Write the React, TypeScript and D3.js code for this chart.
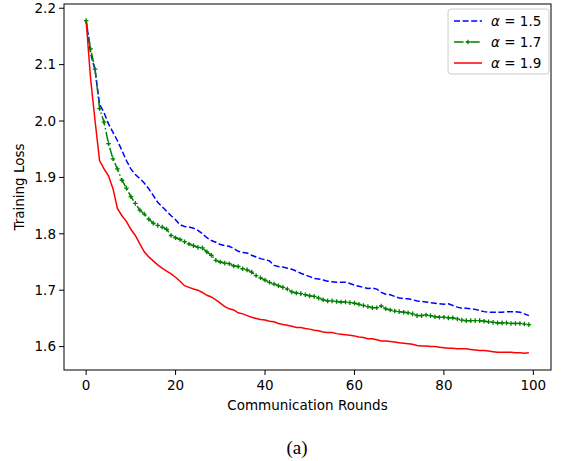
import React from "react";
import * as d3 from "d3";

// communication rounds 0..99
const rounds = d3.range(0, 100);

const alpha15 = [
  2.178, 2.12, 2.09, 2.03, 2.015, 1.995, 1.98, 1.965, 1.948, 1.93,
  1.915, 1.905, 1.898, 1.89, 1.88, 1.868, 1.856, 1.848, 1.84, 1.832,
  1.825, 1.816, 1.813, 1.812, 1.81, 1.806, 1.8, 1.793, 1.788, 1.785,
  1.781, 1.779, 1.778, 1.774, 1.769, 1.767, 1.766, 1.762, 1.759, 1.756,
  1.754, 1.752, 1.744, 1.742, 1.741, 1.739, 1.737, 1.734, 1.73, 1.727,
  1.724, 1.721, 1.72, 1.718, 1.716, 1.715, 1.714, 1.714, 1.714, 1.712,
  1.709, 1.707, 1.705, 1.703, 1.704, 1.702, 1.696, 1.693, 1.692, 1.689,
  1.686, 1.685, 1.685, 1.683, 1.681, 1.68, 1.679, 1.678, 1.677, 1.676,
  1.675, 1.676, 1.673, 1.67, 1.668, 1.668, 1.667, 1.666, 1.664, 1.662,
  1.661, 1.661, 1.661, 1.661, 1.662, 1.662, 1.662, 1.661, 1.658, 1.655,
];

const alpha17 = [
  2.178, 2.128, 2.092, 2.022, 1.998, 1.96, 1.933, 1.915, 1.895, 1.881,
  1.866, 1.854, 1.842, 1.835, 1.826, 1.819, 1.815, 1.812, 1.808, 1.797,
  1.793, 1.79, 1.786, 1.782, 1.779, 1.776, 1.775, 1.768, 1.762, 1.753,
  1.75, 1.748, 1.747, 1.743, 1.742, 1.738, 1.736, 1.732, 1.726, 1.722,
  1.718, 1.714, 1.711, 1.708, 1.705, 1.702, 1.697, 1.695, 1.694, 1.692,
  1.69, 1.689, 1.686, 1.683, 1.681, 1.681, 1.68, 1.679, 1.679, 1.678,
  1.677, 1.675, 1.673, 1.671, 1.669, 1.669, 1.672, 1.667, 1.665, 1.663,
  1.662, 1.661, 1.66, 1.658, 1.655, 1.655, 1.656, 1.655, 1.653, 1.652,
  1.652, 1.651, 1.651, 1.649, 1.647, 1.646, 1.646, 1.646, 1.646, 1.645,
  1.644, 1.643, 1.642, 1.642, 1.642, 1.641, 1.641, 1.641, 1.64, 1.639,
];

const alpha19 = [
  2.178, 2.075, 2.0, 1.93, 1.915, 1.903, 1.88, 1.845, 1.832, 1.822,
  1.808, 1.797, 1.782, 1.768, 1.759, 1.752, 1.745, 1.739, 1.734, 1.729,
  1.723, 1.716, 1.708, 1.705, 1.702, 1.7, 1.696, 1.691, 1.688, 1.683,
  1.677, 1.671, 1.667, 1.665, 1.66, 1.658, 1.655, 1.652, 1.65, 1.648,
  1.647, 1.645, 1.644, 1.641, 1.639, 1.638, 1.636, 1.634, 1.634, 1.632,
  1.631, 1.629, 1.628, 1.626, 1.625, 1.625, 1.623, 1.622, 1.621, 1.62,
  1.619, 1.617, 1.616, 1.614, 1.614, 1.612, 1.61, 1.61, 1.609, 1.608,
  1.607, 1.606, 1.605, 1.604, 1.602, 1.601, 1.601, 1.6, 1.6, 1.599,
  1.598, 1.597, 1.597, 1.596, 1.596, 1.596, 1.595, 1.594, 1.593, 1.593,
  1.592, 1.591, 1.59, 1.59, 1.59, 1.59, 1.589, 1.589, 1.588, 1.589,
];

const xTicks = [0, 20, 40, 60, 80, 100];
const yTicks = [1.6, 1.7, 1.8, 1.9, 2.0, 2.1, 2.2];
const legendLabels = ["1.5", "1.7", "1.9"];

const W = 562;
const H = 461;
const m = { left: 64, right: 551, top: 4, bottom: 370 };
const font = "DejaVu Sans, sans-serif";

export default function App() {
  // matplotlib style 5% margins
  const xs = d3.scaleLinear().domain([-4.95, 103.95]).range([m.left, m.right]);
  const all = [...alpha15, ...alpha17, ...alpha19];
  const lo = d3.min(all)!;
  const hi = d3.max(all)!;
  const pad = (hi - lo) * 0.05;
  const ys = d3.scaleLinear().domain([lo - pad, hi + pad]).range([m.bottom, m.top]);

  const line = d3
    .line<number>()
    .x((_, i) => xs(rounds[i]))
    .y((d) => ys(d));

  const series = [
    { data: alpha15, color: "#0000ff", dash: "6,2.6" },
    { data: alpha17, color: "#008000", dash: "9.5,2.6,1.5,2.6" },
    { data: alpha19, color: "#ff0000", dash: "none" },
  ];

  return (
    <svg width={W} height={H} style={{ position: "absolute", left: 0, top: 0 }}>
      <rect width={W} height={H} fill="#fff" />
      <defs>
        <clipPath id="plot">
          <rect x={m.left} y={m.top} width={m.right - m.left} height={m.bottom - m.top} />
        </clipPath>
      </defs>

      <g clipPath="url(#plot)">
        {series.map((s, k) => (
          <path
            key={k}
            d={line(s.data) || ""}
            fill="none"
            stroke={s.color}
            strokeWidth={1.5}
            strokeDasharray={s.dash}
          />
        ))}
        {alpha17.map((d, i) => (
          <path
            key={"m" + i}
            d={`M${xs(rounds[i]) - 2.3},${ys(d)}h4.6M${xs(rounds[i])},${ys(d) - 2.3}v4.6`}
            stroke="#008000"
            strokeWidth={1.3}
          />
        ))}
      </g>

      {/* frame */}
      <rect
        x={m.left}
        y={m.top}
        width={m.right - m.left}
        height={m.bottom - m.top}
        fill="none"
        stroke="#000"
        strokeWidth={1}
      />

      {/* x axis */}
      {xTicks.map((t) => (
        <g key={"x" + t} transform={`translate(${xs(t)},${m.bottom})`}>
          <line y2={5} stroke="#000" strokeWidth={1} />
          <text y={20} textAnchor="middle" fontFamily={font} fontSize={13.5} fill="#000">
            {t}
          </text>
        </g>
      ))}
      {/* y axis */}
      {yTicks.map((t) => (
        <g key={"y" + t} transform={`translate(${m.left},${ys(t)})`}>
          <line x2={-5} stroke="#000" strokeWidth={1} />
          <text x={-8} dy="0.35em" textAnchor="end" fontFamily={font} fontSize={13.5} fill="#000">
            {d3.format(".1f")(t)}
          </text>
        </g>
      ))}

      <text
        x={(m.left + m.right) / 2}
        y={410}
        textAnchor="middle"
        fontFamily={font}
        fontSize={13.5}
        fill="#000"
      >
        Communication Rounds
      </text>
      <text
        transform={`translate(24,${(m.top + m.bottom) / 2}) rotate(-90)`}
        textAnchor="middle"
        fontFamily={font}
        fontSize={13.5}
        fill="#000"
      >
        Training Loss
      </text>

      {/* legend */}
      <g transform="translate(448,9)">
        <rect width={101} height={65} rx={3} fill="#fff" fillOpacity={0.8} stroke="#cccccc" />
        {series.map((s, k) => (
          <g key={"l" + k} transform={`translate(0,${12 + k * 21})`}>
            <line x1={6} x2={34} stroke={s.color} strokeWidth={1.5} strokeDasharray={s.dash} />
            {k === 1 && <path d="M17.7,0h4.6M20,-2.3v4.6" stroke="#008000" strokeWidth={1.3} />}
            <text x={43} dy="0.35em" fontFamily={font} fontSize={13.5} fill="#000">
              <tspan fontStyle="italic">α</tspan>
              {" = " + legendLabels[k]}
            </text>
          </g>
        ))}
      </g>

      <text x={297} y={454} textAnchor="middle" fontFamily="Liberation Serif, serif" fontSize={19} fill="#000">
        (a)
      </text>
    </svg>
  );
}
